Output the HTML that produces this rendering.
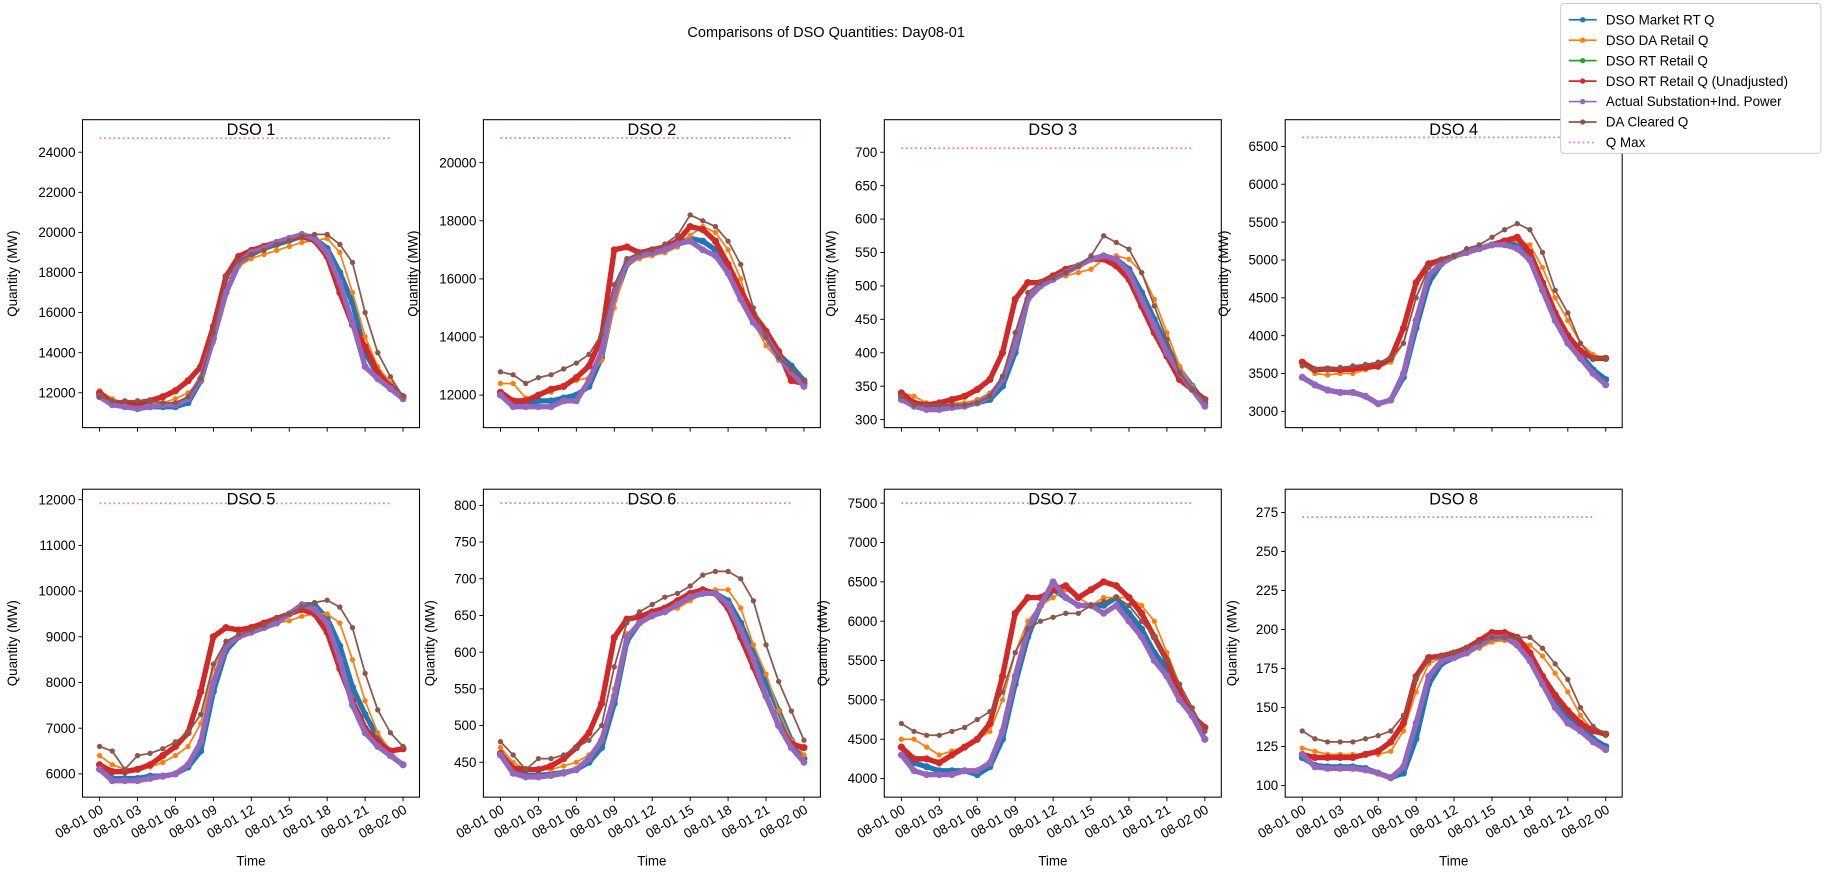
<!DOCTYPE html>
<html><head><meta charset="utf-8"><style>
html,body{margin:0;padding:0;background:#fff}
svg{display:block;font-family:"Liberation Sans","DejaVu Sans",sans-serif}
</style></head><body>
<svg id="fig" width="1836" height="885" viewBox="0 0 1580 761.6" xmlns="http://www.w3.org/2000/svg">
<rect width="1580" height="761.6" fill="#fff"/>
<text x="711" y="32" font-size="12.5" text-anchor="middle">Comparisons of DSO Quantities: Day08-01</text>
<g id="plots"></g>
<g id="legend"></g>
</svg>
<script>
const hours = [0,1,2,3,4,5,6,7,8,9,10,11,12,13,14,15,16,17,18,19,20,21,22,23,24];
const xTickHours = [0,3,6,9,12,15,18,21,24];
const xTickLabels = ["08-01 00","08-01 03","08-01 06","08-01 09","08-01 12","08-01 15","08-01 18","08-01 21","08-02 00"];
const dsoNames = ["DSO 1","DSO 2","DSO 3","DSO 4","DSO 5","DSO 6","DSO 7","DSO 8"];
const qMax = [24700,20850,706,6620,11920,803,7500,272];
const yMin = [10261,10880,288,2785,5491,402.5,3764,92.6];
const yMaxLim = [25623,21480,748.7,6853,12229,822,7677,289.9];
const yTickStart = [12000,12000,300,3000,6000,450,4000,100];
const yTickEnd = [24000,20000,700,6500,12000,800,7500,275];
const yTickStep = [2000,2000,50,500,1000,50,500,25];

const marketRT = [
[11900,11500,11400,11300,11300,11300,11300,11500,12600,14700,17000,18400,18900,19200,19400,19600,19800,19700,19200,18000,16500,14000,12900,12400,11700],
[12000,11700,11700,11800,11800,11900,12000,12300,13300,15300,16500,16800,16900,17000,17200,17400,17300,17000,16300,15400,14600,14000,13400,13000,12500],
[335,322,318,318,320,322,325,330,350,400,480,500,510,520,530,540,545,540,525,490,450,410,375,350,325],
[3450,3350,3280,3250,3250,3200,3100,3150,3450,4100,4700,4950,5050,5100,5150,5200,5250,5200,5000,4700,4300,4000,3750,3550,3420],
[6100,5900,5900,5900,5950,5950,6000,6150,6500,7800,8700,9000,9100,9200,9300,9500,9700,9700,9400,8800,7900,7300,6800,6400,6200],
[460,438,432,432,434,436,440,450,470,530,615,640,650,655,665,675,680,680,670,640,600,560,520,480,455],
[4400,4200,4150,4100,4100,4100,4050,4150,4500,5200,5800,6200,6400,6300,6200,6200,6200,6300,6100,5900,5600,5400,5100,4800,4500],
[118,113,112,112,112,111,108,105,108,130,165,178,182,185,190,193,195,192,185,170,155,145,138,130,125]];
const daRetail = [
[12100,11700,11500,11500,11500,11500,11700,12000,12600,14500,17000,18300,18700,18900,19100,19300,19500,19600,19700,19000,17000,14800,13300,12500,11700],
[12400,12400,11900,12000,12100,12300,12500,12600,13200,15000,16500,16700,16800,16900,17100,17500,17800,17600,17000,16000,14500,13700,13200,12800,12400],
[340,335,325,325,325,325,330,340,360,420,490,500,510,515,520,525,540,545,540,520,480,430,380,350,330],
[3620,3500,3480,3500,3500,3550,3580,3650,3900,4500,4900,4980,5050,5100,5150,5200,5250,5250,5200,4900,4500,4200,3900,3750,3700],
[6400,6200,6100,6100,6150,6250,6400,6600,7100,8300,8900,9000,9100,9200,9300,9350,9450,9500,9500,9300,8500,7600,6900,6500,6200],
[470,450,440,440,440,445,450,460,480,550,625,640,648,655,660,670,680,685,685,660,610,570,520,480,460],
[4500,4500,4400,4300,4350,4400,4500,4600,5000,5600,6000,6200,6300,6400,6300,6200,6300,6300,6300,6200,6000,5600,5200,4900,4600],
[124,122,120,120,120,120,120,122,135,160,178,182,183,185,188,192,193,193,190,183,172,160,145,135,132]];
const rtRetail = [
[12000,11500,11500,11500,11600,11800,12100,12600,13300,15300,17800,18800,19100,19300,19500,19700,19800,19600,18800,17000,15400,14300,13000,12300,11800],
[12100,11800,11800,12000,12200,12300,12600,13000,14000,17000,17100,16900,17000,17100,17300,17800,17700,17300,16500,15600,14800,14200,13500,12500,12400],
[340,325,322,325,330,335,345,360,400,480,505,505,515,525,530,540,540,530,510,470,430,395,360,345,330],
[3650,3550,3560,3550,3560,3580,3600,3700,4100,4700,4950,5000,5050,5100,5150,5200,5250,5300,5100,4700,4300,4000,3800,3700,3700],
[6200,6050,6050,6100,6200,6400,6600,6900,7800,9000,9200,9150,9200,9300,9400,9500,9600,9500,9100,8300,7600,7000,6700,6500,6550],
[462,442,440,440,445,455,470,490,530,620,645,648,655,660,670,680,685,680,660,620,580,540,500,475,470],
[4400,4250,4250,4200,4300,4400,4500,4700,5300,6100,6300,6300,6400,6450,6300,6400,6500,6450,6300,6100,5800,5500,5100,4800,4650],
[120,118,118,118,118,120,122,128,140,170,182,183,185,188,193,198,198,195,185,170,158,148,140,135,133]];
const actualPower = [
[11800,11400,11300,11200,11300,11400,11400,11700,12700,14700,17000,18500,19000,19200,19500,19700,19900,19700,19000,17500,15500,13300,12700,12200,11700],
[12000,11600,11600,11600,11600,11800,11800,12500,13500,15500,16600,16800,16900,17000,17200,17300,17000,16800,16200,15300,14500,14000,13300,12800,12300],
[330,320,315,315,318,320,325,335,360,410,480,500,510,520,530,540,545,540,520,480,440,400,370,345,320],
[3450,3350,3280,3250,3250,3200,3100,3150,3500,4200,4800,4950,5050,5100,5150,5200,5200,5150,5000,4600,4200,3900,3700,3500,3350],
[6100,5850,5850,5850,5900,5950,6000,6200,6700,8000,8800,9000,9100,9200,9300,9500,9700,9600,9300,8500,7500,6900,6600,6400,6200],
[460,435,430,430,432,435,440,455,480,540,620,640,650,655,665,675,680,680,665,630,590,540,500,470,450],
[4300,4100,4050,4050,4050,4100,4100,4200,4600,5300,5900,6200,6500,6300,6200,6200,6100,6200,6000,5800,5500,5300,5000,4800,4500],
[120,112,111,111,111,110,108,105,112,140,170,180,182,185,190,195,195,190,180,165,150,140,135,128,123]];
const daCleared = [
[11800,11600,11600,11600,11600,11500,11500,11800,12700,15000,17800,18600,18900,19100,19400,19600,19800,19900,19900,19400,18500,16000,14000,12800,11800],
[12800,12700,12400,12600,12700,12900,13100,13400,14100,15800,16700,16900,17000,17200,17500,18200,18000,17800,17300,16500,15000,14000,13300,12900,12500],
[335,322,322,322,322,322,325,335,365,430,490,505,512,520,530,545,575,565,555,520,470,420,370,345,330],
[3600,3560,3560,3580,3600,3620,3650,3700,3900,4500,4900,5000,5050,5150,5200,5300,5400,5480,5400,5100,4600,4300,3900,3700,3700],
[6600,6500,6100,6400,6450,6550,6700,6900,7300,8400,8900,9050,9150,9250,9400,9500,9650,9750,9800,9650,9200,8200,7400,6900,6600],
[478,460,440,455,455,460,470,480,500,580,640,655,665,675,680,690,705,710,710,700,670,610,560,520,480],
[4700,4600,4550,4550,4600,4650,4750,4850,5100,5600,5900,6000,6050,6100,6100,6200,6250,6300,6200,6000,5800,5500,5200,4900,4600],
[135,130,128,128,128,130,132,135,145,168,180,183,185,188,192,195,195,195,195,188,178,168,150,138,133]];

const NS = "http://www.w3.org/2000/svg";
const colLeft = [71,416,761,1106], rowTop = [103,421], W = 290, H = 265;
const xLo = -1.35, xHi = 25.3;
function mk(tag, attrs, parent){ const e = document.createElementNS(NS, tag); for (const k in attrs) e.setAttribute(k, attrs[k]); parent.appendChild(e); return e; }
const plots = document.getElementById('plots');

for (let d = 0; d < 8; d++) {
  const L = colLeft[d % 4], T = rowTop[Math.floor(d / 4)], bottomRow = d >= 4;
  const xs = h => L + (h - xLo) / (xHi - xLo) * W;
  const ys = v => T + (yMaxLim[d] - v) / (yMaxLim[d] - yMin[d]) * H;
  const g = mk('g', {}, plots);
  
  
  const clipId = 'clip' + d;
  const cp = mk('clipPath', {id: clipId}, g); mk('rect', {x: L, y: T, width: W, height: H}, cp);
  const data = mk('g', {'clip-path': 'url(#' + clipId + ')'}, g);
  function series(arr, color, width, name, dense) {
    const pts = arr.map((v, i) => xs(hours[i]).toFixed(2) + ',' + ys(v).toFixed(2)).join(' ');
    const pl = mk('polyline', {points: pts, fill: 'none', stroke: color, 'stroke-width': width, 'stroke-linejoin': 'round', 'stroke-linecap': 'round'}, data);
    
    
    arr.forEach((v, i) => { mk('circle', {cx: xs(hours[i]), cy: ys(v), r: dense ? 3 : 2.3, fill: color}, data); });
  }
  series(marketRT[d], '#1f77b4', 4.5, 'market-rt-q', true);
  series(daRetail[d], '#ff7f0e', 1.5, 'da-retail-q', false);
  series(rtRetail[d], '#2ca02c', 4.5, 'rt-retail-q', true);
  series(rtRetail[d], '#d62728', 4.5, 'rt-retail-q-unadjusted', true);
  series(actualPower[d], '#9467bd', 4.5, 'actual-substation-power', true);
  series(daCleared[d], '#8c564b', 1.5, 'da-cleared-q', false);
  const qm = mk('line', {x1: xs(0), x2: xs(23), y1: ys(qMax[d]), y2: ys(qMax[d]), stroke: '#e377c2', 'stroke-width': 1.5, 'stroke-dasharray': '1.5,2.5'}, data);
  
  
  mk('rect', {x: L, y: T, width: W, height: H, fill: 'none', stroke: '#000', 'stroke-width': 0.9}, g);
  // y ticks
  let nd = 0;
  for (let v = yTickStart[d]; v <= yTickEnd[d] + 1e-9; v += yTickStep[d]) {
    const y = ys(v);
    mk('line', {x1: L - 3.5, x2: L, y1: y, y2: y, stroke: '#000', 'stroke-width': 0.8}, g);
    const t = mk('text', {x: L - 6, y: y + 4, 'font-size': 11.5, 'text-anchor': 'end'}, g);
    t.textContent = String(v); nd = Math.max(nd, String(v).length);
    
    
  }
  const yl = mk('text', {x: 0, y: 0, 'font-size': 11.5, 'text-anchor': 'middle', transform: 'translate(' + (L - 20 - nd * 7.3) + ',' + (T + H / 2) + ') rotate(-90)'}, g);
  yl.textContent = 'Quantity (MW)';
  
  
  // x ticks
  xTickHours.forEach((h, i) => {
    const x = xs(h);
    mk('line', {x1: x, x2: x, y1: T + H, y2: T + H + 3.5, stroke: '#000', 'stroke-width': 0.8}, g);
    if (bottomRow) {
      const t = mk('text', {x: 0, y: 0, 'font-size': 11.5, 'text-anchor': 'end', transform: 'translate(' + (x + 4) + ',' + (T + H + 13) + ') rotate(-30)'}, g);
      t.textContent = xTickLabels[i];
      
      
    }
  });
  if (bottomRow) {
    const xl = mk('text', {x: L + W / 2, y: T + H + 59, 'font-size': 11.5, 'text-anchor': 'middle'}, g);
    xl.textContent = 'Time';
    
    
  }
  const tt = mk('text', {x: L + W / 2, y: T + 13, 'font-size': 14, 'text-anchor': 'middle'}, g);
  tt.textContent = dsoNames[d];
  
  
}

// legend
const lg = document.getElementById('legend');
const legLabels = ["DSO Market RT Q","DSO DA Retail Q","DSO RT Retail Q","DSO RT Retail Q (Unadjusted)","Actual Substation+Ind. Power","DA Cleared Q","Q Max"];
const legColors = ['#1f77b4','#ff7f0e','#2ca02c','#d62728','#9467bd','#8c564b','#e377c2'];
mk('rect', {x: 1343, y: 3, width: 224, height: 129, rx: 3, fill: '#fff', stroke: '#ccc', 'stroke-width': 0.8}, lg);
legLabels.forEach((lab, i) => {
  const y = 17 + i * 17.6;
  const e = mk('g', {}, lg);
  
  
  if (i < 6) {
    mk('line', {x1: 1350, x2: 1374, y1: y, y2: y, stroke: legColors[i], 'stroke-width': 1.5}, e);
    mk('circle', {cx: 1362, cy: y, r: 2.3, fill: legColors[i]}, e);
  } else {
    mk('line', {x1: 1350, x2: 1374, y1: y, y2: y, stroke: legColors[i], 'stroke-width': 1.5, 'stroke-dasharray': '1.5,2.5'}, e);
  }
  const t = mk('text', {x: 1382, y: y + 4, 'font-size': 11.5}, e);
  t.textContent = lab;
});
</script>
</body></html>
